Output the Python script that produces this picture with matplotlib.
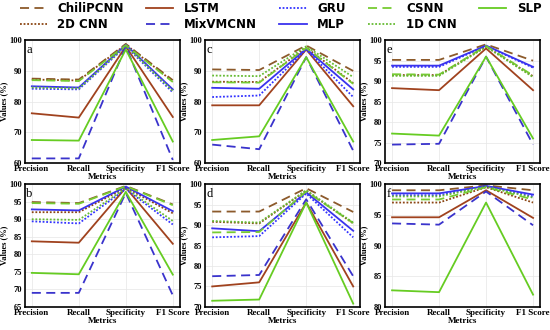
import matplotlib.pyplot as plt
import numpy as np

metrics = ['Precision', 'Recall', 'Specificity', 'F1 Score']
models = ['ChiliPCNN', '2D CNN', 'LSTM', 'MixVMCNN', 'GRU', 'MLP', 'CSNN', '1D CNN', 'SLP']

# values per panel, one list per model (Precision, Recall, Specificity, F1)
panel_a = {
    'ChiliPCNN': [87.5, 87.2, 98.8, 87.0],
    '2D CNN': [87.2, 86.9, 98.6, 86.6],
    'LSTM': [76.2, 74.8, 98.0, 75.0],
    'MixVMCNN': [61.5, 61.5, 98.0, 61.0],
    'GRU': [84.2, 84.0, 98.0, 83.0],
    'MLP': [85.0, 84.6, 98.5, 84.0],
    'CSNN': [87.0, 86.7, 98.4, 86.4],
    '1D CNN': [84.6, 84.3, 98.2, 83.5],
    'SLP': [67.5, 67.3, 97.0, 67.0],
}
panel_b = {
    'ChiliPCNN': [94.9, 94.6, 99.5, 94.2],
    '2D CNN': [92.0, 92.0, 99.0, 91.7],
    'LSTM': [83.7, 83.3, 99.0, 83.0],
    'MixVMCNN': [69.0, 69.0, 97.5, 68.3],
    'GRU': [89.4, 88.8, 98.6, 88.5],
    'MLP': [92.8, 92.5, 99.3, 92.3],
    'CSNN': [94.6, 94.4, 99.4, 94.0],
    '1D CNN': [90.0, 89.8, 98.8, 89.5],
    'SLP': [74.7, 74.3, 97.8, 74.2],
}
panel_c = {
    'ChiliPCNN': [90.5, 90.3, 98.3, 90.0],
    '2D CNN': [86.5, 86.4, 97.6, 86.0],
    'LSTM': [78.8, 78.8, 97.0, 78.5],
    'MixVMCNN': [66.0, 64.5, 94.5, 64.0],
    'GRU': [81.5, 82.0, 97.0, 81.5],
    'MLP': [84.5, 84.2, 97.2, 84.0],
    'CSNN': [86.3, 86.2, 97.5, 85.8],
    '1D CNN': [88.5, 88.3, 98.0, 88.0],
    'SLP': [67.5, 68.7, 94.5, 67.0],
}
panel_d = {
    'ChiliPCNN': [93.3, 93.3, 99.0, 93.2],
    '2D CNN': [90.8, 90.4, 98.4, 90.4],
    'LSTM': [75.0, 76.0, 95.5, 75.0],
    'MixVMCNN': [77.5, 77.8, 96.3, 77.5],
    'GRU': [87.0, 87.3, 97.7, 87.0],
    'MLP': [89.2, 88.5, 98.0, 88.6],
    'CSNN': [88.2, 88.3, 98.2, 90.5],
    '1D CNN': [91.0, 90.6, 98.5, 90.6],
    'SLP': [71.5, 71.8, 95.5, 70.8],
}
panel_e = {
    'ChiliPCNN': [95.2, 95.2, 99.0, 95.0],
    '2D CNN': [91.5, 91.5, 98.5, 91.2],
    'LSTM': [88.3, 87.8, 98.0, 87.8],
    'MixVMCNN': [74.5, 74.7, 96.0, 74.5],
    'GRU': [93.5, 93.5, 98.6, 93.3],
    'MLP': [93.8, 93.8, 98.7, 93.5],
    'CSNN': [91.7, 91.6, 98.6, 91.4],
    '1D CNN': [91.3, 91.3, 98.4, 91.0],
    'SLP': [77.2, 76.7, 96.0, 76.0],
}
panel_f = {
    'ChiliPCNN': [99.0, 99.0, 99.8, 99.0],
    '2D CNN': [97.0, 97.0, 99.5, 97.0],
    'LSTM': [94.6, 94.6, 99.0, 94.5],
    'MixVMCNN': [93.6, 93.4, 98.8, 93.3],
    'GRU': [98.2, 98.2, 99.7, 98.0],
    'MLP': [98.5, 98.5, 99.7, 98.3],
    'CSNN': [97.5, 97.5, 99.5, 97.5],
    '1D CNN': [98.0, 98.0, 99.6, 97.8],
    'SLP': [82.7, 82.4, 97.0, 82.0],
}

styles = {
    'ChiliPCNN': ('#8c5a2b', (0, (5, 3))),
    '2D CNN': ('#8b4513', (0, (1, 1))),
    'LSTM': ('#a0421e', '-'),
    'MixVMCNN': ('#3a33cc', (0, (5, 3))),
    'GRU': ('#3333ff', (0, (1, 1))),
    'MLP': ('#3a33ee', '-'),
    'CSNN': ('#77cc33', (0, (5, 3))),
    '1D CNN': ('#66bb33', (0, (1, 1))),
    'SLP': ('#66cc22', '-'),
}

panels = [
    ('a', panel_a, (60, 100), [60, 70, 80, 90, 100], [0.045, 0.506, 0.282, 0.372]),
    ('b', panel_b, (65, 100), [65, 70, 75, 80, 85, 90, 95, 100], [0.045, 0.07, 0.282, 0.372]),
    ('c', panel_c, (60, 100), [60, 70, 80, 90, 100], [0.373, 0.506, 0.282, 0.372]),
    ('d', panel_d, (70, 100), [70, 75, 80, 85, 90, 95, 100], [0.373, 0.07, 0.282, 0.372]),
    ('e', panel_e, (70, 100), [70, 75, 80, 85, 90, 95, 100], [0.70, 0.506, 0.282, 0.372]),
    ('f', panel_f, (80, 100), [80, 85, 90, 95, 100], [0.70, 0.07, 0.282, 0.372]),
]

serif = 'Liberation Serif'
fig = plt.figure(figsize=(5.5, 3.3), dpi=100)
x = np.arange(len(metrics))

for label, data, ylim, yticks, rect in panels:
    ax = fig.add_axes(rect)
    for m in models:
        c, ls = styles[m]
        ax.plot(x, data[m], color=c, linestyle=ls, linewidth=1.3, label=m)
    ax.set_xlim(-0.15, 3.15)
    ax.set_ylim(*ylim)
    ax.set_yticks(yticks)
    ax.set_xticks(x)
    ax.set_xticklabels(metrics, fontfamily=serif, fontweight='bold', fontsize=6.5)
    ax.set_yticklabels([str(t) for t in yticks], fontfamily=serif, fontweight='bold', fontsize=6)
    ax.tick_params(axis='x', length=0, pad=1.5)
    ax.tick_params(axis='y', length=0, pad=2)
    ax.grid(True, color='#e6e6e6', linewidth=0.5)
    ax.set_xlabel('Metrics', fontfamily=serif, fontweight='bold', fontsize=6.5, labelpad=0)
    ax.set_ylabel('Values (%)', fontfamily=serif, fontweight='bold', fontsize=6, labelpad=1)
    for s in ax.spines.values():
        s.set_linewidth(1.2)
    ax.text(0.01, 0.97, label, transform=ax.transAxes, fontfamily=serif,
            fontsize=9, va='top', ha='left')

handles, labels = fig.axes[0].get_legend_handles_labels()
fig.legend(handles, labels, loc='upper center', bbox_to_anchor=(0.51, 1.025), ncol=5,
           frameon=False, prop={'weight': 'bold', 'size': 8.5}, handlelength=2.3,
           columnspacing=1.9, labelspacing=0.2, handletextpad=0.9)

fig.savefig('out.png', dpi=100)
